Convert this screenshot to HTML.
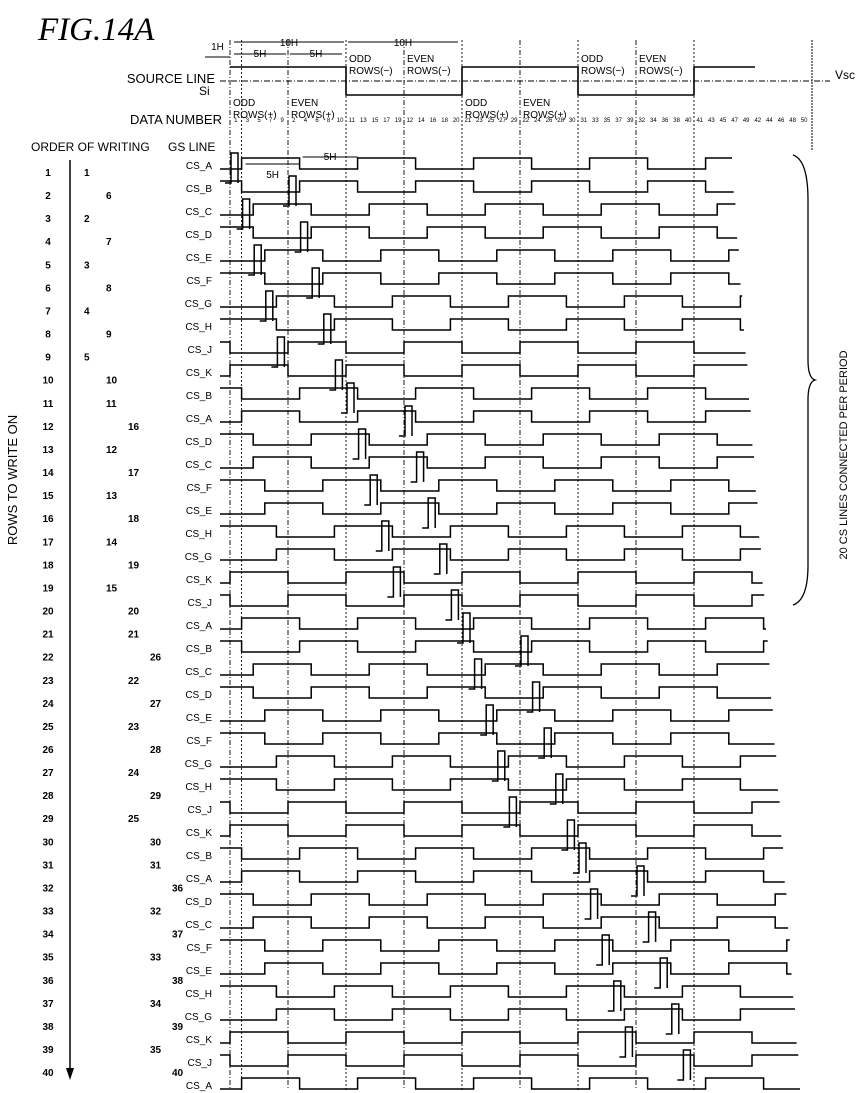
<!DOCTYPE html>
<html><head><meta charset="utf-8"><style>
html,body{margin:0;padding:0;background:#fff}
svg{display:block}
text{font-family:"Liberation Sans",sans-serif;fill:#000}
</style></head><body>
<svg id="fig" width="865" height="1093" viewBox="0 0 865 1093" xmlns="http://www.w3.org/2000/svg">
<text x="38" y="40" font-style="italic" font-size="33" style="font-family:'Liberation Serif',serif">FIG.14A</text>
<text x="215" y="83" font-size="13" text-anchor="end">SOURCE LINE</text>
<text x="199" y="95" font-size="12">Si</text>
<text x="222" y="124" font-size="13" text-anchor="end">DATA NUMBER</text>
<text x="31" y="151" font-size="12">ORDER OF WRITING</text>
<text x="168" y="151" font-size="12">GS LINE</text>
<text x="835" y="79" font-size="12">Vsc</text>
<text transform="translate(17,480) rotate(-90)" font-size="13" text-anchor="middle">ROWS TO WRITE ON</text>
<text transform="translate(847,455) rotate(-90)" font-size="11" text-anchor="middle">20 CS LINES CONNECTED PER PERIOD</text>
<path d="M793,155 Q808,160 808,200 L808,360 Q808,378 815,380 Q808,382 808,400 L808,565 Q808,600 793,605" fill="none" stroke="#000" stroke-width="1.3"/>
<line x1="70" y1="160" x2="70" y2="1072" stroke="#000" stroke-width="1.5"/>
<path d="M66,1068 L74,1068 L70,1080 Z" fill="#000"/>
<g id="topAnn"></g>
<g id="grid"></g>
<g id="rowLabels"></g>
<g id="waves"></g>
</svg>
<script>
// ---- data ----
const csLetters = ["A","B","C","D","E","F","G","H","J","K","B","A","D","C","F","E","H","G","K","J","A","B","C","D","E","F","G","H","J","K","B","A","D","C","F","E","H","G","K","J","A"];
const writeOrder = [1,6,2,7,3,8,4,9,5,10,11,16,12,17,13,18,14,19,15,20,21,26,22,27,23,28,24,29,25,30,31,36,32,37,33,38,34,39,35,40];
const letterPhase = {A:0,B:0,C:1,D:1,E:2,F:2,G:3,H:3,J:4,K:4};
const letterRise = {A:1,B:0,C:1,D:0,E:1,F:0,G:1,H:0,J:1,K:0};
const sourceLevels = [1,0,1,0,1];
const sourceTexts = [["ODD","ROWS(+)"],["EVEN","ROWS(+)"],["ODD","ROWS(−)"],["EVEN","ROWS(−)"],["ODD","ROWS(+)"],["EVEN","ROWS(+)"],["ODD","ROWS(−)"],["EVEN","ROWS(−)"]];
const dataNumbers = [1,3,5,7,9,2,4,6,8,10,11,13,15,17,19,12,14,16,18,20,21,23,25,27,29,22,24,26,28,30,31,33,35,37,39,32,34,36,38,40,41,43,45,47,49,42,44,46,48,50];

// ---- axes ----
const X0 = 230, HW = 11.6;
const tx = t => X0 + t*HW;
const rowY = i => 172 + i*23.08;
const lineY = k => 165 + k*23;
const hiY = k => 158 + k*23, loY = k => 169 + k*23;

const NS = "http://www.w3.org/2000/svg";
function mk(tag, attrs, parent){const e=document.createElementNS(NS,tag);for(const a in attrs)e.setAttribute(a,attrs[a]);parent.appendChild(e);return e;}
const topG=document.getElementById('topAnn'), gridG=document.getElementById('grid'), rowsG=document.getElementById('rowLabels'), wavesG=document.getElementById('waves');

[0,1,5,10,15,20,25,30,35,40].forEach((t,i)=>{
  const l=mk('line',{x1:tx(t),y1:40,x2:tx(t),y2:1090,stroke:'#000','stroke-width':0.9,'stroke-dasharray':(i%2?'2,2':'5,2,1,2')},gridG);
  
  
});
const g50=mk('line',{x1:812,y1:40,x2:812,y2:150,stroke:'#000','stroke-width':1,'stroke-dasharray':'2,1'},gridG);



const vsc=mk('line',{x1:220,y1:81,x2:830,y2:81,stroke:'#000','stroke-width':0.9,'stroke-dasharray':'6,2,1,2'},topG);


let d='M'+tx(0)+','+(sourceLevels[0]?67:95);
sourceLevels.forEach((lv,i)=>{const y=lv?67:95;d+=' V'+y+' H'+Math.min(tx((i+1)*10),755);});
const sw=mk('path',{d:d,fill:'none',stroke:'#000','stroke-width':1.6},topG);


sourceTexts.forEach((tt,i)=>{
  const neg=i%4>=2; const y=neg?62:106;
  const t=mk('text',{x:tx(i*5)+3,y:y,'font-size':10},topG);
  
  
  t.textContent=tt[0];
  const t2=mk('text',{x:tx(i*5)+3,y:y+12,'font-size':10},topG);
  
  
  t2.textContent=tt[1];
});
dataNumbers.forEach((n,j)=>{
  const t=mk('text',{x:tx(j+0.5),y:122,'font-size':6,'text-anchor':'middle'},topG);
  
  
  t.textContent=n;
});
function dim(x1,x2,y,label,ly){
  const l=mk('line',{x1:x1,y1:y,x2:x2,y2:y,stroke:'#000','stroke-width':1},topG);
  
  
  const t=mk('text',{x:(x1+x2)/2,y:ly,'font-size':10,'text-anchor':'middle'},topG);
  
  
  t.textContent=label;
}
dim(tx(0)+4,tx(10)-2,42,'10H',46); dim(tx(10)+2,tx(20)-4,42,'10H',46);
dim(tx(0)+4,tx(5)-2,54,'5H',57); dim(tx(5)+2,tx(10)-4,54,'5H',57);
dim(205,tx(0),57,'1H',50);
dim(tx(1)+4,tx(6),164,'5H',178); dim(tx(6)+3,tx(11),157,'5H',160);

writeOrder.forEach((w,i)=>{
  const t=mk('text',{x:48,y:rowY(i)+4,'font-size':10,'text-anchor':'middle','font-weight':'bold'},rowsG);
  
  
  t.textContent=i+1;
  const b=Math.floor(i/10), even=(i%2===1);
  const cx=84+22*b+(even?22:0);
  const t2=mk('text',{x:cx,y:rowY(i)+4,'font-size':10,'font-weight':'bold'},rowsG);
  
  
  t2.textContent=w;
});

function levelAt(k,x){
  const L=csLetters[k]; const r0=tx(1+letterPhase[L]);
  let ph=((x-r0)%(10*HW)+10*HW)%(10*HW);
  let hi=ph<5*HW?1:0;
  return letterRise[L]?hi:1-hi;
}
csLetters.forEach((L,k)=>{
  const lab=mk('text',{x:212,y:lineY(k)+4,'font-size':10,'text-anchor':'end'},wavesG);
  
  
  lab.textContent='CS_'+L;
  const endX=732+k*1.7;
  const yOf=v=>v?hiY(k):loY(k);
  let x=220; let lv=levelAt(k,x+0.1);
  let dd='M220,'+yOf(lv);
  const r0=tx(1+letterPhase[L]);
  let n=Math.ceil((x-r0)/(5*HW)+1e-6);
  let nx=r0+n*5*HW;
  while(nx<endX){dd+=' H'+nx.toFixed(1);lv=1-lv;dd+=' V'+yOf(lv);nx+=5*HW;}
  dd+=' H'+endX.toFixed(1);
  const p=mk('path',{d:dd,fill:'none',stroke:'#000','stroke-width':1.5},wavesG);
  
  
  if(k<writeOrder.length){
    const xw=tx(writeOrder[k]-1)+1;
    const pd='M'+(xw-6)+','+(loY(k)+14)+' H'+xw+' V'+(hiY(k)-5)+' H'+(xw+7)+' V'+(loY(k)+14);
    const pp=mk('path',{d:pd,fill:'none',stroke:'#000','stroke-width':1.5},wavesG);
    
    
  }
});
</script>
</body></html>
